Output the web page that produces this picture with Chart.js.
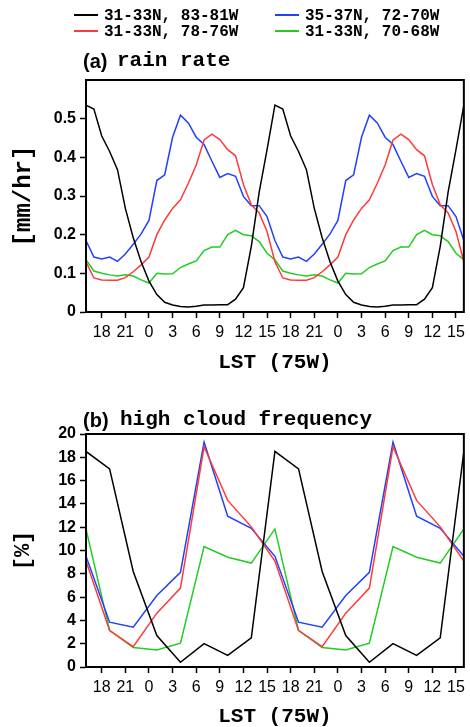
<!DOCTYPE html>
<html>
<head>
<meta charset="utf-8">
<script src="https://cdn.jsdelivr.net/npm/chart.js@4/dist/chart.umd.min.js"></script>
<style>
  html, body { margin:0; padding:0; background:#fff; }
  #wrap { position:relative; width:470px; height:727px; overflow:hidden; background:#fff; }
  canvas { position:absolute; left:0; }
  .mono { font-family:"Liberation Mono", "Courier New", monospace; font-weight:bold; color:#000; position:absolute; white-space:nowrap; }
  .sans { font-family:"Liberation Sans", Arial, sans-serif; font-weight:bold; color:#000; position:absolute; white-space:nowrap; }
  .lg { position:absolute; height:2px; width:24px; }
</style>
</head>
<body>
<div id="wrap">
  <canvas id="ca" width="470" height="390" style="top:0;width:470px;height:390px"></canvas>
  <canvas id="cb" width="470" height="337" style="top:390px;width:470px;height:337px"></canvas>

  <div class="lg" style="left:74px;top:14px;background:#000"></div>
  <div class="mono" style="left:104px;top:7px;font-size:16px;line-height:18px">31-33N, 83-81W</div>
  <div class="lg" style="left:74px;top:30px;background:#ff3a3a"></div>
  <div class="mono" style="left:104px;top:23px;font-size:16px;line-height:18px">31-33N, 78-76W</div>
  <div class="lg" style="left:275px;top:14px;background:#2240ff"></div>
  <div class="mono" style="left:305px;top:7px;font-size:16px;line-height:18px">35-37N, 72-70W</div>
  <div class="lg" style="left:275px;top:30px;background:#22cc22"></div>
  <div class="mono" style="left:305px;top:23px;font-size:16px;line-height:18px">31-33N, 70-68W</div>

  <div class="sans" style="left:83px;top:50px;font-size:20px;line-height:22px">(a)</div>
  <div class="mono" style="left:117px;top:50px;font-size:21px;line-height:22px">rain rate</div>
  <div class="sans" style="left:83px;top:409px;font-size:20px;line-height:22px">(b)</div>
  <div class="mono" style="left:120px;top:409px;font-size:21px;line-height:22px">high cloud frequency</div>
</div>
<script>
// ---------- data ----------
const rainHours = [16,17,18,19,20,21,22,23,24,25,26,27,28,29,30,31,32,33,34,35,36,37,38,39,
                   40,41,42,43,44,45,46,47,48,49,50,51,52,53,54,55,56,57,58,59,60,61,62,63,64];
const rainBlack = [0.535,0.525,0.455,0.415,0.368,0.268,0.192,0.13,0.08,0.045,0.025,0.018,0.014,0.013,0.015,0.018,0.018,0.019,0.019,0.033,0.063,0.17,0.31,0.42,
                   0.535,0.525,0.455,0.415,0.368,0.268,0.192,0.13,0.08,0.045,0.025,0.018,0.014,0.013,0.015,0.018,0.018,0.019,0.019,0.033,0.063,0.17,0.31,0.42,0.535];
const rainRed   = [0.13,0.088,0.083,0.082,0.082,0.089,0.104,0.122,0.142,0.2,0.238,0.268,0.29,0.333,0.38,0.445,0.46,0.446,0.42,0.404,0.33,0.277,0.256,0.208,
                   0.13,0.088,0.083,0.082,0.082,0.089,0.104,0.122,0.142,0.2,0.238,0.268,0.29,0.333,0.38,0.445,0.46,0.446,0.42,0.404,0.33,0.277,0.256,0.208,0.13];
const rainBlue  = [0.185,0.142,0.137,0.142,0.131,0.15,0.175,0.202,0.237,0.34,0.355,0.452,0.509,0.489,0.452,0.433,0.39,0.348,0.358,0.351,0.299,0.275,0.275,0.247,
                   0.185,0.142,0.137,0.142,0.131,0.15,0.175,0.202,0.237,0.34,0.355,0.452,0.509,0.489,0.452,0.433,0.39,0.348,0.358,0.351,0.299,0.275,0.275,0.247,0.185];
const rainGreen = [0.135,0.106,0.1,0.096,0.093,0.096,0.093,0.083,0.075,0.1,0.098,0.099,0.115,0.124,0.132,0.159,0.168,0.168,0.2,0.211,0.2,0.197,0.182,0.152,
                   0.135,0.106,0.1,0.096,0.093,0.096,0.093,0.083,0.075,0.1,0.098,0.099,0.115,0.124,0.132,0.159,0.168,0.168,0.2,0.211,0.2,0.197,0.182,0.152,0.135];

const cloudHours = [16,19,22,25,28,31,34,37,40,43,46,49,52,55,58,61,64];
const cloudBlack = [18.5,17.0,8.2,2.7,0.4,2.0,1.0,2.5,18.5,17.0,8.2,2.7,0.4,2.0,1.0,2.5,18.5];
const cloudRed   = [9.1,3.13,1.75,4.62,6.77,18.9,14.3,12.03,9.1,3.13,1.75,4.62,6.77,18.9,14.3,12.03,9.1];
const cloudBlue  = [9.5,3.85,3.42,6.14,8.12,19.3,12.94,11.9,9.5,3.85,3.42,6.14,8.12,19.3,12.94,11.9,9.5];
const cloudGreen = [11.85,3.15,1.68,1.47,2.05,10.33,9.42,8.92,11.85,3.15,1.68,1.47,2.05,10.33,9.42,8.92,11.85];

const seriesNames = ['31-33N, 83-81W','31-33N, 78-76W','35-37N, 72-70W','31-33N, 70-68W'];
const xTickHours  = [18,21,24,27,30,33,36,39,42,45,48,51,54,57,60,63];
const xTickLabels = ['18','21','0','3','6','9','12','15','18','21','0','3','6','9','12','15'];
const yTicksRain  = [0,0.1,0.2,0.3,0.4,0.5];
const yTicksCloud = [0,2,4,6,8,10,12,14,16,18,20];

// ---------- styling ----------
const colors = ['#000000','#ff3a3a','#2240ff','#22cc22'];
const monoBold = {family:'"Liberation Mono", "Courier New", monospace', weight:'bold'};

const framePlugin = {
  id:'frame',
  afterDatasetsDraw(chart){
    const a = chart.chartArea, ctx = chart.ctx;
    ctx.save();
    ctx.strokeStyle = '#000';
    ctx.lineWidth = 2;
    ctx.strokeRect(a.left, a.top, a.right - a.left, a.bottom - a.top);
    ctx.restore();
  }
};

function makeDatasets(xs, arrs){
  return arrs.map((arr, i) => ({
    label: seriesNames[i],
    data: xs.map((x, j) => ({x:x, y:arr[j]})),
    borderColor: colors[i],
    backgroundColor: colors[i],
    borderWidth: 1.5,
    pointRadius: 0,
    tension: 0,
    fill: false
  }));
}

function makeChart(id, xs, arrs, yMax, yTicks, yFmt, yTitle, yTitleSize, padTop, xAxisHeight, xTitlePadBottom){
  return new Chart(document.getElementById(id), {
    type:'line',
    data:{ datasets: makeDatasets(xs, arrs) },
    plugins:[framePlugin],
    options:{
      responsive:false,
      animation:false,
      layout:{ padding:{ top:padTop, right:6, left:0, bottom:0 } },
      plugins:{ legend:{display:false}, tooltip:{enabled:false} },
      scales:{
        x:{
          type:'linear', min:16, max:64,
          afterBuildTicks(s){ s.ticks = xTickHours.map(v => ({value:v})); },
          afterFit(s){ s.height = xAxisHeight; },
          ticks:{
            autoSkip:false, maxRotation:0, padding:5,
            color:'#000',
            font:{ family:'"Liberation Sans", Arial, sans-serif', size:16 },
            callback(v){ const k = xTickHours.indexOf(v); return k >= 0 ? xTickLabels[k] : ''; }
          },
          grid:{ drawOnChartArea:false, drawTicks:true, tickLength:6, tickWidth:1.5, tickColor:'#000' },
          border:{ display:true, color:'#000', width:2 },
          title:{ display:true, text:'LST (75W)', color:'#000',
                  font:Object.assign({size:21, lineHeight:1}, monoBold),
                  padding:{ top:0, bottom:xTitlePadBottom } }
        },
        y:{
          type:'linear', min:0, max:yMax,
          afterBuildTicks(s){ s.ticks = yTicks.map(v => ({value:v})); },
          afterFit(s){ s.width = 86; },
          ticks:{
            padding:4, color:'#000',
            font:{ family:'"Liberation Sans", Arial, sans-serif', size:16, weight:'bold' },
            callback: yFmt
          },
          grid:{ drawOnChartArea:false, drawTicks:true, tickLength:6, tickWidth:1.5, tickColor:'#000' },
          border:{ display:true, color:'#000', width:2 },
          title:{ display:true, text:yTitle, color:'#000',
                  font:Object.assign({size:yTitleSize, lineHeight:1}, monoBold),
                  padding:{ top:12, bottom:0 } }
        }
      }
    }
  });
}

makeChart('ca', rainHours, [rainBlack, rainRed, rainBlue, rainGreen], 0.6, yTicksRain,
  v => v === 0 ? '0' : v.toFixed(1), '[mm/hr]', 24, 80, 78, 16.5);
makeChart('cb', cloudHours, [cloudBlack, cloudRed, cloudBlue, cloudGreen], 20, yTicksCloud,
  v => String(v), '[%]', 22, 44, 60, 0);
</script>
</body>
</html>
